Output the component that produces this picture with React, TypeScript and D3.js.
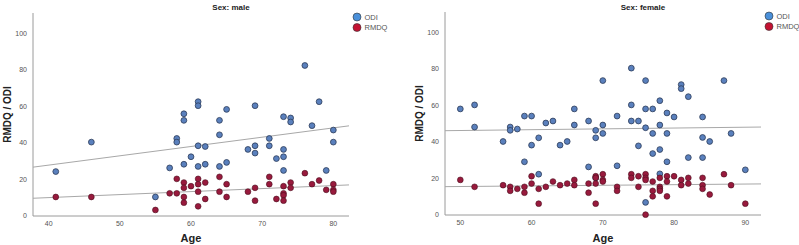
import React from "react";
import * as d3 from "d3";

// ---------- DATA ----------
const maleOdiAge = [41, 46, 55, 57, 58, 58, 59, 59, 59, 60, 61, 61, 61, 61, 62, 62, 64, 64, 64, 65, 65, 68, 69, 69, 69, 71, 71, 72, 73, 73, 73, 73, 74, 74, 76, 77, 78, 79, 80, 80];
const maleOdiVal = [24.3, 40.4, 10.4, 26.3, 42.4, 40.4, 55.9, 52.3, 28.3, 32.4, 62.5, 60.3, 38.4, 27.1, 38, 28.3, 52.3, 44.4, 27.1, 58.3, 29.3, 36.4, 60.3, 38.4, 34.4, 42.4, 38.4, 31.4, 54.3, 36.4, 32.4, 24.9, 53.6, 51.4, 82.3, 49.4, 62.5, 24.9, 47, 40.4];
const maleRmdqAge = [41, 46, 55, 57, 58, 58, 59, 59, 59, 59, 60, 61, 61, 61, 61, 62, 62, 64, 64, 65, 65, 68, 69, 69, 71, 71, 72, 73, 73, 73, 73, 74, 74, 76, 77, 78, 79, 80, 80, 80];
const maleRmdqVal = [10.4, 10.4, 3.3, 12.4, 20.3, 12.4, 18.3, 15.4, 10.4, 7.3, 16.3, 20.3, 17.4, 13.3, 5.3, 18.3, 9.3, 21.4, 13.3, 17.4, 10.4, 13.3, 15.4, 8.4, 21.4, 17.4, 9.3, 16.3, 12.4, 11.3, 8.4, 18.3, 15.4, 23.4, 17.4, 19.4, 14.3, 17.4, 14.3, 13.3];

const femaleOdiAge = [50, 52, 52, 56, 57, 57, 58, 59, 59, 60, 60, 61, 61, 62, 63, 64, 65, 66, 66, 68, 68, 69, 69, 69, 70, 70, 70, 72, 72, 74, 74, 74, 75, 75, 76, 76, 76, 76, 77, 77, 77, 78, 78, 78, 78, 79, 79, 79, 80, 81, 81, 82, 82, 84, 84, 84, 85, 87, 88, 90];
const femaleOdiVal = [58, 60.2, 48.1, 40.2, 48.1, 46.3, 47, 54.1, 29.1, 54.1, 38.2, 42.2, 22.3, 50.3, 51.4, 38.2, 40.2, 58, 49.2, 51.4, 26.3, 46.3, 42.2, 20.3, 73.5, 49.2, 44.6, 54.1, 26.9, 80.3, 60.2, 51.4, 51.4, 37.8, 73.5, 58, 47.7, 6.9, 58, 44.6, 33.6, 62.5, 49.2, 35.8, 22.5, 55.8, 44.6, 29.1, 53.6, 71.3, 69.1, 64.7, 31.4, 53.6, 42.4, 31.4, 40.2, 73.5, 44.6, 24.7];
const femaleRmdqAge = [50, 52, 56, 57, 57, 58, 59, 59, 60, 60, 61, 61, 62, 63, 64, 65, 66, 66, 68, 68, 69, 69, 69, 69, 70, 70, 70, 72, 72, 74, 74, 75, 75, 76, 76, 76, 76, 77, 77, 77, 78, 78, 78, 78, 79, 79, 79, 80, 81, 81, 82, 82, 84, 84, 84, 85, 87, 88, 90];
const femaleRmdqVal = [19.2, 15.4, 16.3, 15.4, 13.2, 14.3, 15.4, 12.2, 21.2, 17.2, 14.3, 6.2, 15.4, 18.3, 16.3, 17.2, 19.2, 16.3, 17.2, 12.2, 21.2, 20.3, 17.2, 6.2, 22.3, 19.2, 18.3, 15.4, 13.2, 22.3, 20.3, 21.2, 15.4, 22.3, 20.3, 19.2, 0.2, 18.3, 13.2, 10.2, 20.3, 15.4, 14.3, 13.2, 21.2, 18.3, 10.2, 21.2, 19.2, 16.3, 20.3, 17.2, 20.3, 16.3, 14.3, 11.2, 22.3, 16.3, 6.2];

// fit lines: values at the left and right edge of the age domain
const maleOdiFit = [26.7, 49.3];
const maleRmdqFit = [9.7, 17.0];
const femaleOdiFit = [46.1, 48.1];
const femaleRmdqFit = [15.5, 17.0];

const maleAgeDomain = [37.8, 82.2];
const femaleAgeDomain = [47.85, 92.2];
const maleAgeTicks = [40, 50, 60, 70, 80];
const femaleAgeTicks = [50, 60, 70, 80, 90];
const yTicks = [0, 20, 40, 60, 80, 100];
const yDomain = [0, 111];
const seriesNames = ["ODI", "RMDQ"];

const ODI_FILL = "#5a80bd";
const ODI_STROKE = "#2c3b58";
const ODI_LEGEND = "#4a90da";
const RM_FILL = "#981a3d";
const RM_STROKE = "#4a0d1c";
const RM_LEGEND = "#c41232";
const FONT = "Arial, 'Liberation Sans', sans-serif";

type PanelProps = {
  ox: number;
  left: number;
  right: number;
  top: number;
  bottom: number;
  title: string;
  ageDomain: number[];
  ageTicks: number[];
  odiAge: number[];
  odiVal: number[];
  rmAge: number[];
  rmVal: number[];
  odiFit: number[];
  rmFit: number[];
  titleX: number;
  legendX: number;
  legendY: number;
  yLabelX: number;
};

function Panel(p: PanelProps) {
  const x = d3.scaleLinear().domain(p.ageDomain).range([p.left, p.right]);
  const y = d3.scaleLinear().domain(yDomain).range([p.bottom, p.top]);
  const line = d3
    .line<[number, number]>()
    .x((d) => x(d[0]))
    .y((d) => y(d[1]));
  const odiLine: [number, number][] = [
    [p.ageDomain[0], p.odiFit[0]],
    [p.ageDomain[1], p.odiFit[1]],
  ];
  const rmLine: [number, number][] = [
    [p.ageDomain[0], p.rmFit[0]],
    [p.ageDomain[1], p.rmFit[1]],
  ];
  const midY = (p.top + p.bottom) / 2;
  return (
    <g transform={`translate(${p.ox},0)`} fontFamily={FONT}>
      <text x={p.titleX} y={10} textAnchor="middle" fontSize={8} fontWeight="bold" fill="#222">
        {p.title}
      </text>
      {/* axes */}
      <line x1={p.left} x2={p.left} y1={p.top} y2={p.bottom} stroke="#9a9a9a" strokeWidth={1} />
      <line x1={p.left} x2={p.right} y1={p.bottom} y2={p.bottom} stroke="#9a9a9a" strokeWidth={1} />
      {yTicks.map((t) => (
        <text key={t} x={p.left - 6} y={y(t)} dy="0.35em" textAnchor="end" fontSize={7} fill="#555">
          {t}
        </text>
      ))}
      {p.ageTicks.map((t) => (
        <text key={t} x={x(t)} y={p.bottom + 10} textAnchor="middle" fontSize={7} fill="#555">
          {t}
        </text>
      ))}
      <text
        transform={`translate(${p.yLabelX},${midY}) rotate(-90)`}
        textAnchor="middle"
        fontSize={10}
        fontWeight="bold"
        fill="#222"
      >
        RMDQ / ODI
      </text>
      <text x={(p.left + p.right) / 2} y={242} textAnchor="middle" fontSize={11} fontWeight="bold" fill="#222">
        Age
      </text>
      {/* fit lines */}
      <path d={line(odiLine) || ""} stroke="#a8a8a8" strokeWidth={1} fill="none" />
      <path d={line(rmLine) || ""} stroke="#a8a8a8" strokeWidth={1} fill="none" />
      {/* points */}
      {p.odiAge.map((a, i) => (
        <circle key={"o" + i} cx={x(a)} cy={y(p.odiVal[i])} r={2.9} fill={ODI_FILL} stroke={ODI_STROKE} strokeWidth={0.8} />
      ))}
      {p.rmAge.map((a, i) => (
        <circle key={"r" + i} cx={x(a)} cy={y(p.rmVal[i])} r={2.9} fill={RM_FILL} stroke={RM_STROKE} strokeWidth={0.6} />
      ))}
      {/* legend */}
      {seriesNames.map((n, i) => (
        <g key={n}>
          <circle
            cx={p.legendX}
            cy={p.legendY + i * 10.5}
            r={4}
            fill={i === 0 ? ODI_LEGEND : RM_LEGEND}
            stroke="#333"
            strokeWidth={0.6}
          />
          <text x={p.legendX + 7.5} y={p.legendY + i * 10.5} dy="0.35em" fontSize={7.5} fill="#555">
            {n}
          </text>
        </g>
      ))}
    </g>
  );
}

export default function App() {
  return (
    <svg width={799} height={245} style={{ position: "absolute", left: 0, top: 0, background: "#fff" }}>
      <rect width={799} height={245} fill="#fff" />
      <Panel
        ox={0}
        left={33}
        right={349}
        top={13}
        bottom={216}
        title="Sex: male"
        ageDomain={maleAgeDomain}
        ageTicks={maleAgeTicks}
        odiAge={maleOdiAge}
        odiVal={maleOdiVal}
        rmAge={maleRmdqAge}
        rmVal={maleRmdqVal}
        odiFit={maleOdiFit}
        rmFit={maleRmdqFit}
        titleX={231}
        legendX={357}
        legendY={17}
        yLabelX={11}
      />
      <Panel
        ox={400}
        left={45}
        right={361}
        top={12}
        bottom={215}
        title="Sex: female"
        ageDomain={femaleAgeDomain}
        ageTicks={femaleAgeTicks}
        odiAge={femaleOdiAge}
        odiVal={femaleOdiVal}
        rmAge={femaleRmdqAge}
        rmVal={femaleRmdqVal}
        odiFit={femaleOdiFit}
        rmFit={femaleRmdqFit}
        titleX={243}
        legendX={369}
        legendY={16}
        yLabelX={23}
      />
    </svg>
  );
}
